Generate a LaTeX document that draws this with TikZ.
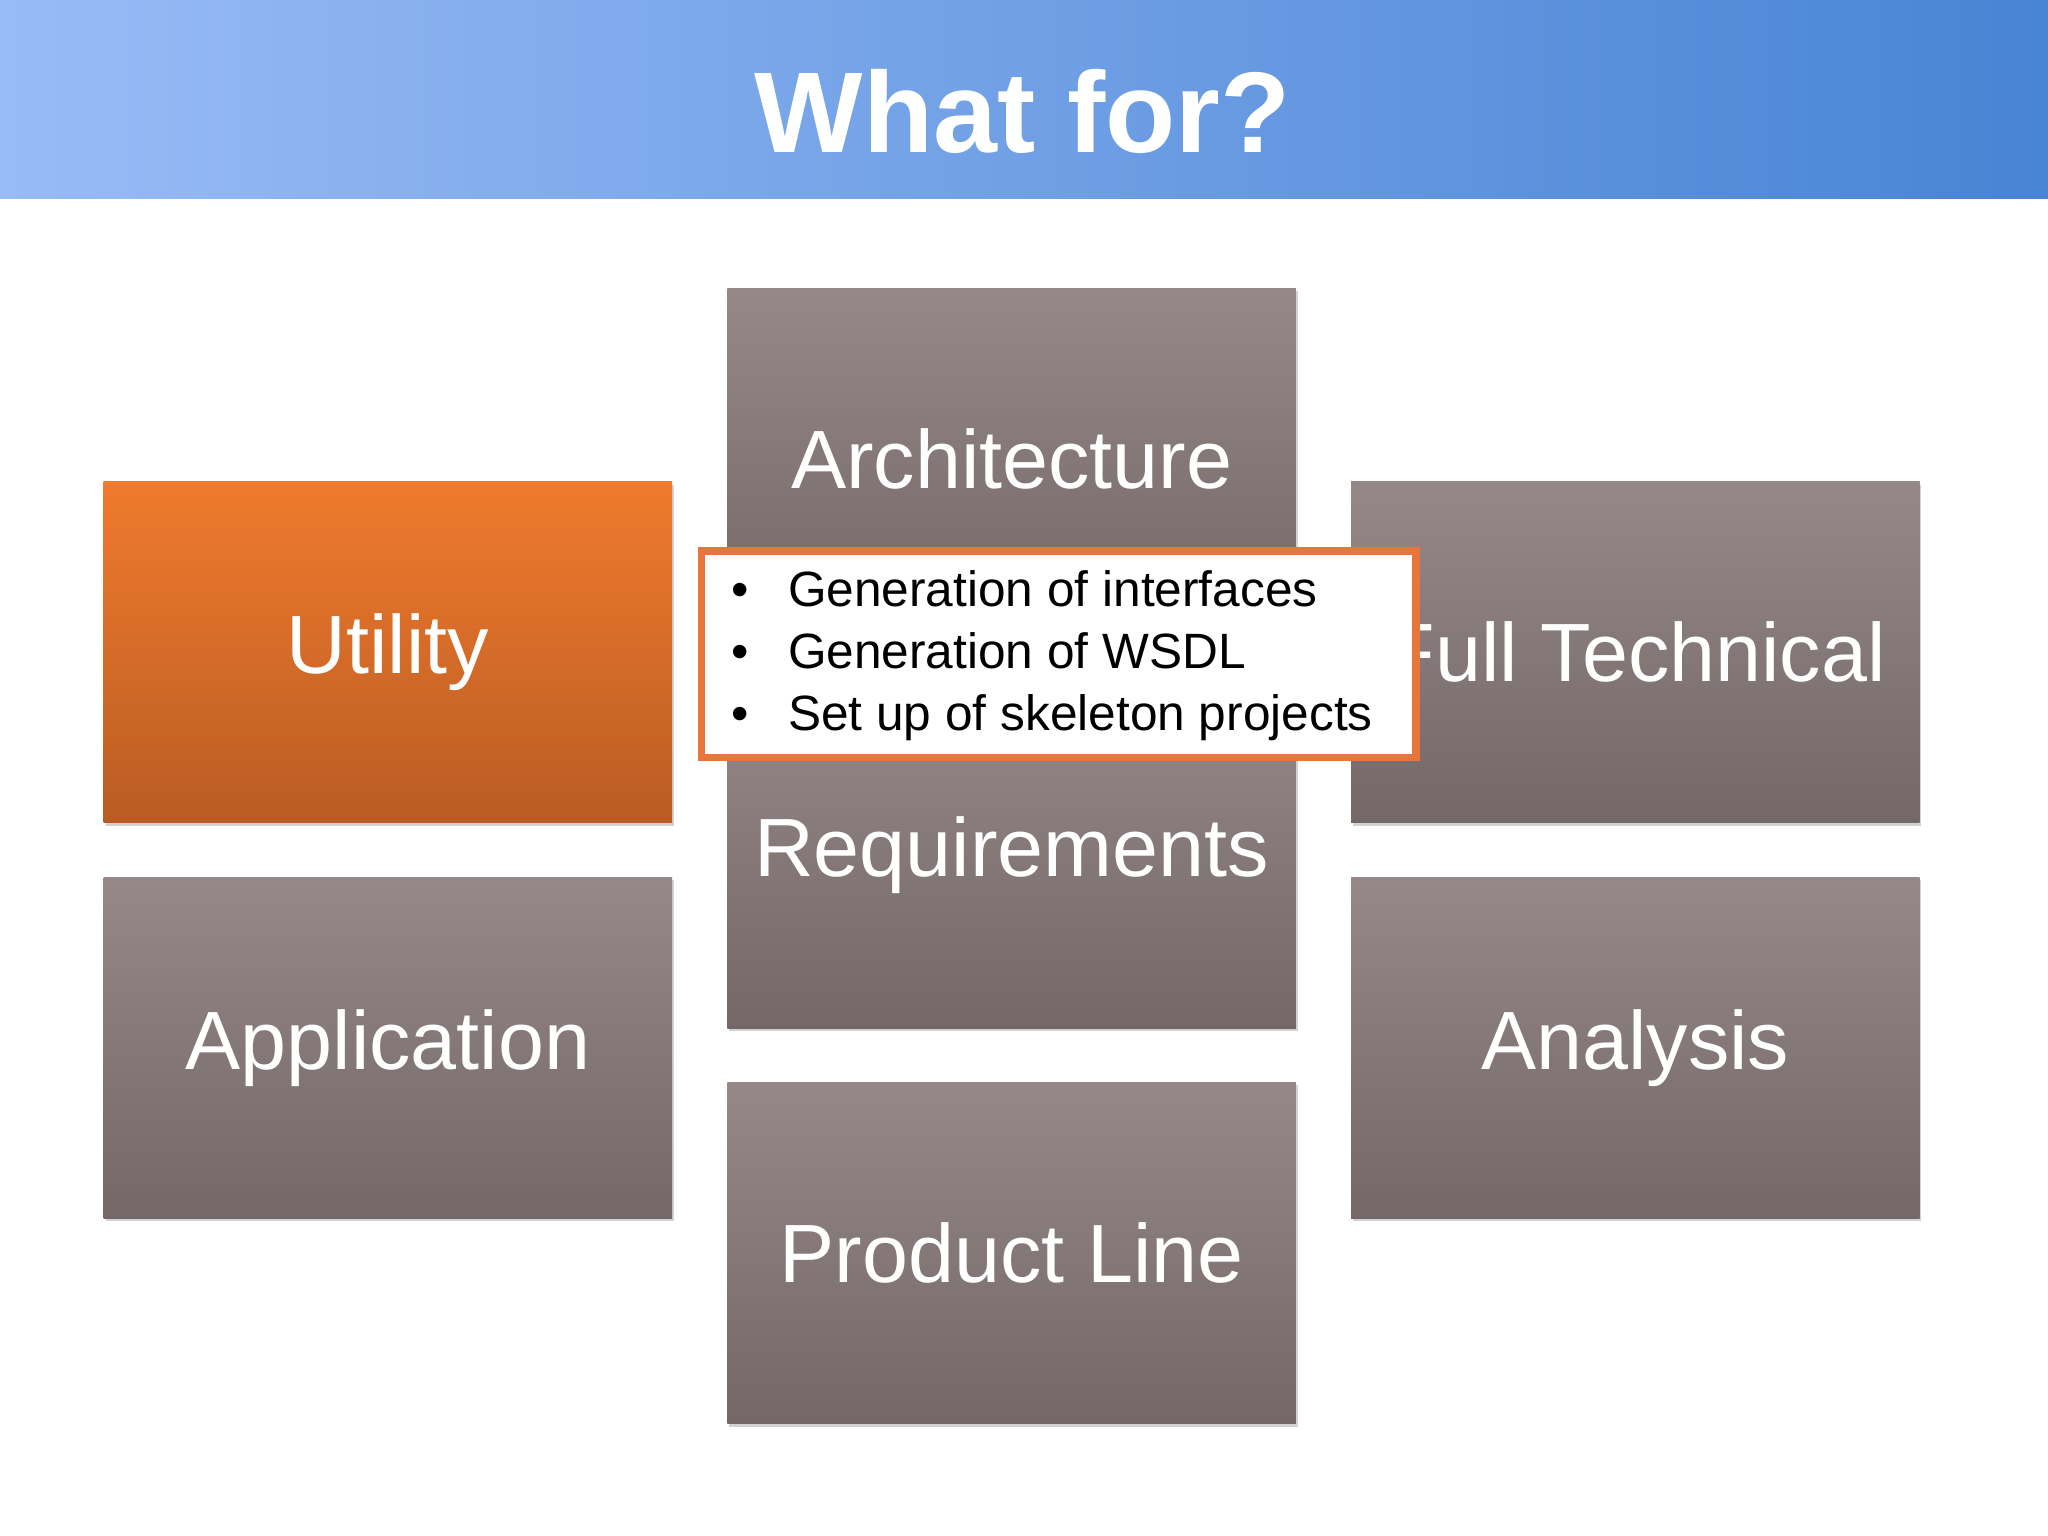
\documentclass[tikz,border=0pt]{standalone}
\usepackage{fontspec}
\setmainfont{Liberation Sans}
\usetikzlibrary{shadows}
\definecolor{gtop}{RGB}{148,136,136}
\definecolor{gbot}{RGB}{115,103,104}
\definecolor{otop}{RGB}{240,122,45}
\definecolor{obot}{RGB}{185,92,35}
\definecolor{hl}{RGB}{152,187,246}
\definecolor{hr}{RGB}{72,132,212}
\definecolor{oborder}{RGB}{232,118,60}
\tikzset{x=0.01cm,y=-0.01cm,
 tile/.style={draw=none,top color=gtop,bottom color=gbot,minimum width=4.35cm,minimum height=2.61cm,
  text=white,font=\fontsize{18}{21}\selectfont,inner sep=0pt,
  drop shadow={shadow xshift=0.4pt,shadow yshift=-0.6pt,opacity=0.35}},
 otile/.style={tile,top color=otop,bottom color=obot}}
\begin{document}
\begin{tikzpicture}
\useasboundingbox (0,0) rectangle (1568,1176);
\fill[white] (0,0) rectangle (1568,1176);
\shade[left color=hl,right color=hr] (0,0) rectangle (1568,152);
\node (title) at (783,85) {\fontsize{25}{30}\selectfont\bfseries\color{white}What for?};
\node[otile] (util) at (297,499.5) {Utility};
\node[tile] (arch) at (774.5,351.5) {\raisebox{0pt}{Architecture}};
\node[tile] (req) at (774.5,656.5) {};
\node[anchor=center,text=white,font=\fontsize{18}{21}\selectfont] (reqt) at (774.5,655) {Requirements};
\node[tile] (full) at (1252,499.5) {Full Technical};
\node[tile] (app) at (297,802.5) {Application};
\node[tile] (ana) at (1252,802.5) {Analysis};
\node[tile] (prod) at (774.5,959.5) {Product Line};
\node[draw=oborder,line width=1.6pt,fill=white,minimum width=5.47cm,minimum height=1.58cm,inner sep=0pt] (call) at (810.5,501) {};
\node[anchor=west,font=\fontsize{10.8}{13.4}\selectfont,align=left] (callt) at (548,502)
 {\makebox[43\dimexpr0.01cm\relax][l]{\textbullet}Generation of interfaces\\
  \makebox[43\dimexpr0.01cm\relax][l]{\textbullet}Generation of WSDL\\
  \makebox[43\dimexpr0.01cm\relax][l]{\textbullet}Set up of skeleton projects};
\end{tikzpicture}
\end{document}
